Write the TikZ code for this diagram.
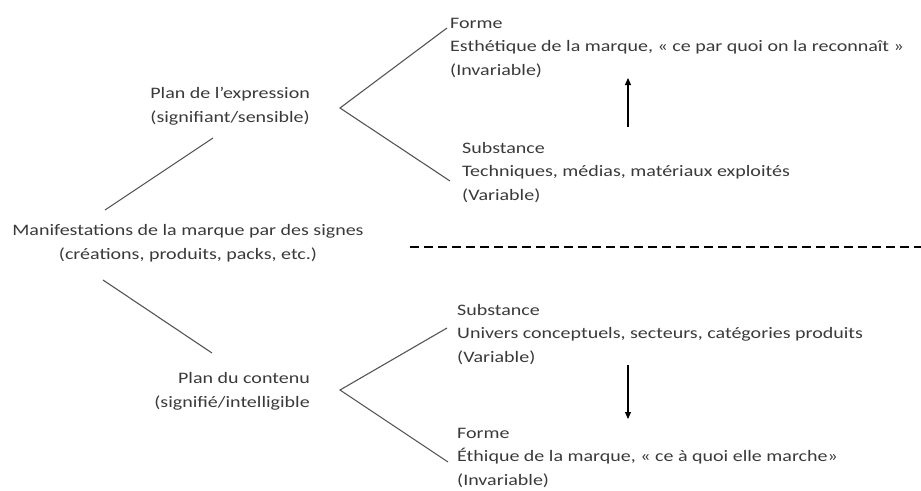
\documentclass[tikz,border=0pt]{standalone}
\usepackage{fontspec}
\setmainfont{Carlito}[FakeStretch=1.25]
\usetikzlibrary{arrows.meta}
\definecolor{txt}{HTML}{3A3A3A}
\definecolor{ln}{HTML}{555555}
\begin{document}
\begin{tikzpicture}[x=1pt,y=-1pt,
  lbl/.style={inner sep=0pt,text=txt,font=\fontsize{16}{23.5}\selectfont},
  branch/.style={draw=ln,line width=1.1pt},
  arr/.style={draw=black,line width=1.1pt,-{Triangle[length=7pt,width=6pt]}},
  sep/.style={draw=black,line width=1.4pt,dash pattern=on 9pt off 5pt}]
\useasboundingbox (0,0) rectangle (921,490);
% texts (base anchor = baseline of the last line)
\node[lbl,anchor=base,align=center] (man) at (188,259) {Manifestations de la marque par des signes\\(créations, produits, packs, etc.)};
\node[lbl,anchor=base east,align=right] (pe) at (310,122) {Plan de l’expression\\(signifiant/sensible)};
\node[lbl,anchor=base east,align=right] (pc) at (310,407) {Plan du contenu\\(signifié/intelligible};
\node[lbl,anchor=base west,align=left] (f1) at (450,75) {Forme\\Esthétique de la marque, « ce par quoi on la reconnaît »\\(Invariable)};
\node[lbl,anchor=base west,align=left] (s1) at (462,200) {Substance\\Techniques, médias, matériaux exploités\\(Variable)};
\node[lbl,anchor=base west,align=left] (s2) at (457,362) {Substance\\Univers conceptuels, secteurs, catégories produits\\(Variable)};
\node[lbl,anchor=base west,align=left] (f2) at (457,485) {Forme\\Éthique de la marque, « ce à quoi elle marche»\\(Invariable)};
% connector end points
\coordinate (m1) at (105,210);
\coordinate (pe1) at (213,138);
\coordinate (m2) at (103,280);
\coordinate (pc1) at (212,353);
\coordinate (a1) at (340,108);
\coordinate (f1e) at (447,28);
\coordinate (s1e) at (450,181);
\coordinate (a2) at (340,390);
\coordinate (s2e) at (447,328);
\coordinate (f2e) at (448,462);
\coordinate (u1) at (628,127);
\coordinate (u2) at (628,78);
\coordinate (d1) at (628,365);
\coordinate (d2) at (628,419);
\coordinate (dl) at (410,247);
\coordinate (dr) at (921,247);
\draw[branch] (m1) -- (pe1);
\draw[branch] (m2) -- (pc1);
\draw[branch] (f1e) -- (a1) -- (s1e);
\draw[branch] (s2e) -- (a2) -- (f2e);
\draw[arr] (u1) -- (u2);
\draw[arr] (d1) -- (d2);
\draw[sep] (dl) -- (dr);
\end{tikzpicture}
\end{document}
